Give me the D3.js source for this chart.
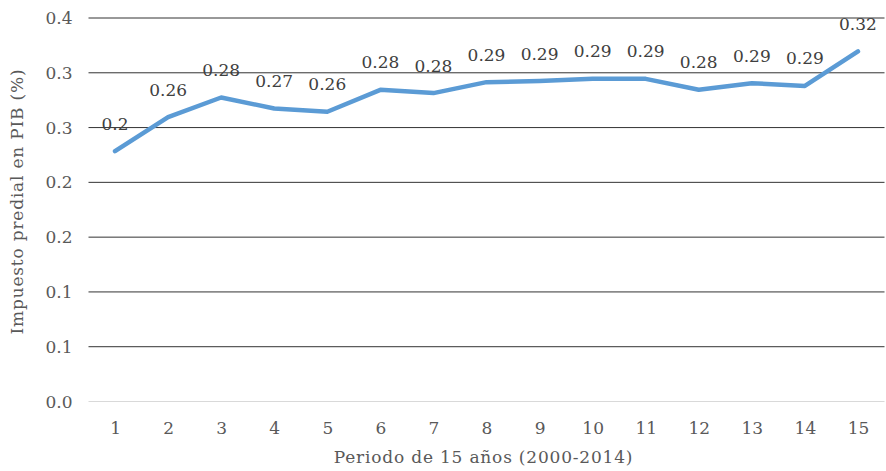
<!DOCTYPE html>
<html>
<head>
<meta charset="utf-8">
<script src="https://cdn.jsdelivr.net/npm/d3@7"></script>
<style>
  html, body { margin: 0; padding: 0; background: #fff; }
  svg { display: block; }
  text { font-family: "DejaVu Serif", serif; }
</style>
</head>
<body>
<svg id="chart" width="886" height="471"></svg>
<script>
const categories = ["1","2","3","4","5","6","7","8","9","10","11","12","13","14","15"];
const values = [0.228, 0.259, 0.277, 0.267, 0.264, 0.284, 0.281, 0.291, 0.292, 0.294, 0.294, 0.284, 0.290, 0.2875, 0.319];
const valueLabels = ["0.2","0.26","0.28","0.27","0.26","0.28","0.28","0.29","0.29","0.29","0.29","0.28","0.29","0.29","0.32"];
const yTicks = [0, 0.05, 0.10, 0.15, 0.20, 0.25, 0.30, 0.35];
const yTickLabels = ["0.0","0.1","0.1","0.2","0.2","0.3","0.3","0.4"];
const xTitle = "Periodo de 15 años (2000-2014)";
const yTitle = "Impuesto predial en PIB (%)";

const svg = d3.select("#chart");
const mLeft = 88.5, mRight = 884.5, mTop = 17.5, mBottom = 401;

const x = d3.scalePoint().domain(categories).range([mLeft, mRight]).padding(0.5);
const y = d3.scaleLinear().domain([0, 0.35]).range([mBottom, mTop]);

// gridlines
const yAxis = d3.axisLeft(y).tickValues(yTicks)
  .tickFormat((d, i) => yTickLabels[i])
  .tickSize(-(mRight - mLeft)).tickPadding(16);
const gy = svg.append("g").attr("transform", `translate(${mLeft},0)`).call(yAxis);
gy.select(".domain").remove();
gy.selectAll(".tick line")
  .attr("stroke", d => d === 0 ? "#d9d9d9" : "#333333")
  .attr("stroke-width", 1);
gy.selectAll(".tick text")
  .attr("fill", "#595959")
  .attr("font-size", 17)
  .attr("font-family", "DejaVu Serif")
  .attr("dy", "0.36em");

// x axis
const xAxis = d3.axisBottom(x).tickSize(0).tickPadding(0);
const gx = svg.append("g").attr("transform", `translate(0,${mBottom})`).call(xAxis);
gx.select(".domain").remove();
gx.selectAll(".tick text")
  .attr("fill", "#595959")
  .attr("font-size", 17)
  .attr("font-family", "DejaVu Serif")
  .attr("y", 33)
  .attr("dy", 0);

// line
const line = d3.line().x((d, i) => x(categories[i])).y(d => y(d));
svg.append("path")
  .datum(values)
  .attr("fill", "none")
  .attr("stroke", "#5b9bd5")
  .attr("stroke-width", 4.5)
  .attr("stroke-linejoin", "round")
  .attr("stroke-linecap", "round")
  .attr("d", line);

// data labels
svg.append("g").selectAll("text")
  .data(values)
  .join("text")
  .attr("x", (d, i) => x(categories[i]))
  .attr("y", d => y(d) - 21.5)
  .attr("text-anchor", "middle")
  .attr("fill", "#404040")
  .attr("font-size", 17)
  .text((d, i) => valueLabels[i]);

// axis titles
svg.append("text")
  .attr("x", (mLeft + mRight) / 2 - 3)
  .attr("y", 463)
  .attr("text-anchor", "middle")
  .attr("fill", "#595959")
  .attr("font-size", 17)
  .attr("letter-spacing", "0.8px")
  .text(xTitle);

svg.append("text")
  .attr("transform", "translate(23,201.5) rotate(-90)")
  .attr("text-anchor", "middle")
  .attr("fill", "#595959")
  .attr("font-size", 17)
  .attr("letter-spacing", "0.8px")
  .text(yTitle);
</script>
</body>
</html>
